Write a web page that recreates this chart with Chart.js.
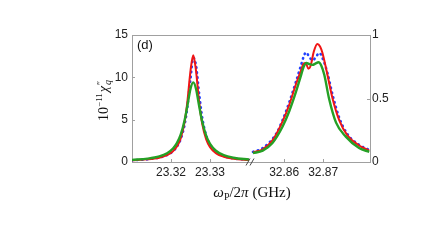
<!DOCTYPE html>
<html>
<head>
<meta charset="utf-8">
<script src="https://cdn.jsdelivr.net/npm/chart.js@4.4.1/dist/chart.umd.min.js"></script>
<style>
html,body{margin:0;padding:0;background:#fff;}
canvas{display:block;}
</style>
</head>
<body>
<canvas id="c" width="436" height="251"></canvas>
<script>
// ---- data (left panel, GHz, left axis) ----
const L_X = [23.3100, 23.3140, 23.3170, 23.3190, 23.3205, 23.3215, 23.3225, 23.3235, 23.3242, 23.3250, 23.3257, 23.3264, 23.3272, 23.3280, 23.3290, 23.3300, 23.3315, 23.3335, 23.3360, 23.3400];
const RED_L   = [0.20, 0.31, 0.51, 0.81, 1.27, 1.82, 2.82, 4.76, 7.14, 10.8, 12.6, 10.8, 7.14, 4.50, 2.69, 1.75, 1.05, 0.62, 0.38, 0.23];
const BLUE_L  = [0.20, 0.32, 0.53, 0.83, 1.27, 1.80, 2.73, 4.46, 6.53, 9.85, 12.3, 11.42, 8.10, 5.24, 3.14, 2.03, 1.20, 0.70, 0.43, 0.25];
const GREEN_L = [0.25, 0.40, 0.66, 1.04, 1.59, 2.22, 3.25, 4.96, 6.65, 8.65, 9.4, 8.65, 6.65, 4.75, 3.12, 2.14, 1.33, 0.80, 0.50, 0.29];

// ---- data (right panel, GHz, right axis 0..1) ----
const RED_R_X = [32.8520, 32.8545, 32.8570, 32.8596, 32.8613, 32.8630, 32.8643, 32.8650, 32.8655, 32.8662, 32.8668, 32.8676, 32.8685, 32.8692, 32.8698, 32.8711, 32.8724, 32.8741, 32.8762, 32.8792, 32.8818];
const RED_R   = [0.076, 0.10, 0.17, 0.32, 0.45, 0.61, 0.72, 0.775, 0.78, 0.735, 0.76, 0.87, 0.93, 0.91, 0.86, 0.685, 0.50, 0.33, 0.21, 0.13, 0.09];
const BLUE_R_X = [32.8520, 32.8545, 32.8579, 32.8596, 32.8613, 32.8630, 32.8643, 32.8650, 32.8656, 32.8664, 32.8673, 32.8682, 32.8690, 32.8698, 32.8711, 32.8724, 32.8741, 32.8762, 32.8792, 32.8818];
const BLUE_R   = [0.08, 0.11, 0.22, 0.33, 0.47, 0.63, 0.76, 0.83, 0.864, 0.83, 0.80, 0.83, 0.86, 0.82, 0.70, 0.53, 0.35, 0.22, 0.135, 0.095];
const GREEN_R_X = [32.8520, 32.8545, 32.8570, 32.8596, 32.8613, 32.8630, 32.8643, 32.8650, 32.8657, 32.8665, 32.8673, 32.8680, 32.8688, 32.8695, 32.8703, 32.8715, 32.8733, 32.8758, 32.8792, 32.8818];
const GREEN_R   = [0.07, 0.09, 0.15, 0.28, 0.40, 0.55, 0.68, 0.75, 0.78, 0.77, 0.765, 0.775, 0.785, 0.76, 0.685, 0.50, 0.31, 0.20, 0.11, 0.08];

// ---- ticks ----
const X_TICKS_L = [23.32, 23.33];
const X_TICKS_R = [32.86, 32.87];
const Y_TICKS_L = [0, 5, 10, 15];
const Y_TICKS_R = [0, 0.5, 1];

// broken-axis mapping: right panel starts right after the left panel with a small gap
const L_MIN = 23.31, L_MAX = 23.34, GAP = 0.001, R_MIN = 32.852, R_MAX = 32.882;
const SHIFT = R_MIN - (L_MAX + GAP);

const pts = (xs, ys, s) => xs.map((x, i) => ({x: x - s, y: ys[i]}));

const RED = '#f01515', BLUE = '#2040ff', GREEN = '#25a025', AXIS = '#a0a0a0';

function lineDs(data, color, axis, width, dash) {
  return {
    data, yAxisID: axis, borderColor: color, borderWidth: width,
    borderDash: dash || [], borderCapStyle: dash ? 'round' : 'butt',
    pointRadius: 0, fill: false, cubicInterpolationMode: 'monotone'
  };
}

const framePlugin = {
  id: 'frame',
  afterDraw(chart) {
    const ctx = chart.ctx, a = chart.chartArea;
    const sx = chart.scales.x, sy = chart.scales.y, sy2 = chart.scales.y2;
    ctx.save();
    ctx.strokeStyle = AXIS; ctx.lineWidth = 1;
    // top frame line
    ctx.beginPath(); ctx.moveTo(a.left, a.top + 0.5); ctx.lineTo(a.right, a.top + 0.5); ctx.stroke();
    // inward tick marks
    ctx.beginPath();
    sx.ticks.forEach(t => { const p = Math.round(sx.getPixelForValue(t.value)) + 0.5; ctx.moveTo(p, a.bottom); ctx.lineTo(p, a.bottom - 3); });
    Y_TICKS_L.forEach(v => { const p = Math.round(sy.getPixelForValue(v)) + 0.5; ctx.moveTo(a.left, p); ctx.lineTo(a.left + 3, p); });
    Y_TICKS_R.forEach(v => { const p = Math.round(sy2.getPixelForValue(v)) + 0.5; ctx.moveTo(a.right, p); ctx.lineTo(a.right - 3, p); });
    ctx.stroke();
    // break marks "//"
    const bx = sx.getPixelForValue(L_MAX + GAP / 2);
    ctx.strokeStyle = '#444'; ctx.lineWidth = 1;
    ctx.beginPath();
    ctx.moveTo(bx - 5, a.bottom + 3.5); ctx.lineTo(bx - 1, a.bottom - 3.5);
    ctx.moveTo(bx - 1, a.bottom + 3.5); ctx.lineTo(bx + 3, a.bottom - 3.5);
    ctx.stroke();

    ctx.fillStyle = '#111';
    // panel label
    ctx.font = '13px "Liberation Sans", Arial, sans-serif';
    ctx.textBaseline = 'alphabetic'; ctx.textAlign = 'left';
    ctx.fillText('(d)', a.left + 5, a.top + 14);

    // x title: ω_P/2π (GHz)
    const segsX = [
      {t: 'ω', f: 'italic 15px "Liberation Serif", serif', dy: 0},
      {t: 'P', f: '10px "Liberation Serif", serif', dy: 3},
      {t: '/2', f: '15px "Liberation Serif", serif', dy: 0},
      {t: 'π', f: 'italic 15px "Liberation Serif", serif', dy: 0},
      {t: ' (GHz)', f: '15px "Liberation Serif", serif', dy: 0}
    ];
    let w = 0; segsX.forEach(s => { ctx.font = s.f; s.w = ctx.measureText(s.t).width; w += s.w; });
    let x = (a.left + a.right) / 2 - w / 2 + 1;
    const yb = 197;
    segsX.forEach(s => { ctx.font = s.f; ctx.fillText(s.t, x, yb + s.dy); x += s.w; });

    // y title: 10^{-11} χ''_q (rotated)
    ctx.save();
    ctx.translate(108, (a.top + a.bottom) / 2 + 2);
    ctx.rotate(-Math.PI / 2);
    ctx.font = '14px "Liberation Serif", serif';
    const w10 = ctx.measureText('10').width;
    ctx.font = '9px "Liberation Serif", serif';
    const wExp = ctx.measureText('−11').width;
    ctx.font = 'italic 14px "Liberation Serif", serif';
    const wChi = ctx.measureText('χ').width;
    ctx.font = '10px "Liberation Serif", serif';
    const wPr = ctx.measureText('″').width;
    ctx.font = 'italic 10px "Liberation Serif", serif';
    const wQ = ctx.measureText('q').width;
    const wy = w10 + wExp + wChi + Math.max(wPr, wQ) + 2;
    let yx = -wy / 2;
    ctx.font = '14px "Liberation Serif", serif'; ctx.fillText('10', yx, 0); yx += w10;
    ctx.font = '9px "Liberation Serif", serif'; ctx.fillText('−11', yx, -6); yx += wExp + 1;
    ctx.font = 'italic 14px "Liberation Serif", serif'; ctx.fillText('χ', yx, 0); yx += wChi + 1;
    ctx.font = '10px "Liberation Serif", serif'; ctx.fillText('″', yx, -4);
    ctx.font = 'italic 10px "Liberation Serif", serif'; ctx.fillText('q', yx, 3);
    ctx.restore();
    ctx.restore();
  }
};

const tickFont = {family: '"Liberation Sans", Arial, sans-serif', size: 12};

new Chart(document.getElementById('c'), {
  type: 'line',
  data: {
    datasets: [
      lineDs(pts(L_X, GREEN_L, 0), GREEN, 'y', 2.4),
      lineDs(pts(L_X, RED_L, 0), RED, 'y', 2),
      lineDs(pts(L_X, BLUE_L, 0), BLUE, 'y', 2.6, [0.5, 4.5]),
      lineDs(pts(GREEN_R_X, GREEN_R, SHIFT), GREEN, 'y2', 2.4),
      lineDs(pts(RED_R_X, RED_R, SHIFT), RED, 'y2', 2),
      lineDs(pts(BLUE_R_X, BLUE_R, SHIFT), BLUE, 'y2', 2.6, [0.5, 4.5])
    ]
  },
  options: {
    responsive: false, animation: false, devicePixelRatio: 1,
    layout: {padding: {left: 0, right: 0, top: 35, bottom: 0}},
    plugins: {legend: {display: false}, tooltip: {enabled: false}},
    scales: {
      x: {
        type: 'linear', min: L_MIN, max: R_MAX - SHIFT,
        afterBuildTicks: s => { s.ticks = X_TICKS_L.concat(X_TICKS_R.map(v => v - SHIFT)).map(v => ({value: v})); },
        afterFit: s => { s.height = 251 - 162; },
        grid: {display: false, drawTicks: false, tickLength: 0},
        border: {display: true, color: AXIS, width: 1},
        ticks: {
          font: tickFont, color: '#222', padding: 3, maxRotation: 0, autoSkip: false,
          callback: v => (v > L_MAX + GAP / 2 ? v + SHIFT : v).toFixed(2)
        }
      },
      y: {
        position: 'left', min: 0, max: 15,
        afterBuildTicks: s => { s.ticks = Y_TICKS_L.map(v => ({value: v})); },
        afterFit: s => { s.width = 132; },
        grid: {display: false, drawTicks: false, tickLength: 0},
        border: {display: true, color: AXIS, width: 1},
        ticks: {font: tickFont, color: '#222', padding: 4, callback: v => String(v)}
      },
      y2: {
        position: 'right', min: 0, max: 1,
        afterBuildTicks: s => { s.ticks = Y_TICKS_R.map(v => ({value: v})); },
        afterFit: s => { s.width = 436 - 370; },
        grid: {display: false, drawTicks: false, tickLength: 0},
        border: {display: true, color: AXIS, width: 1},
        ticks: {font: tickFont, color: '#222', padding: 2, callback: v => String(v)}
      }
    }
  },
  plugins: [framePlugin]
});
</script>
</body>
</html>
